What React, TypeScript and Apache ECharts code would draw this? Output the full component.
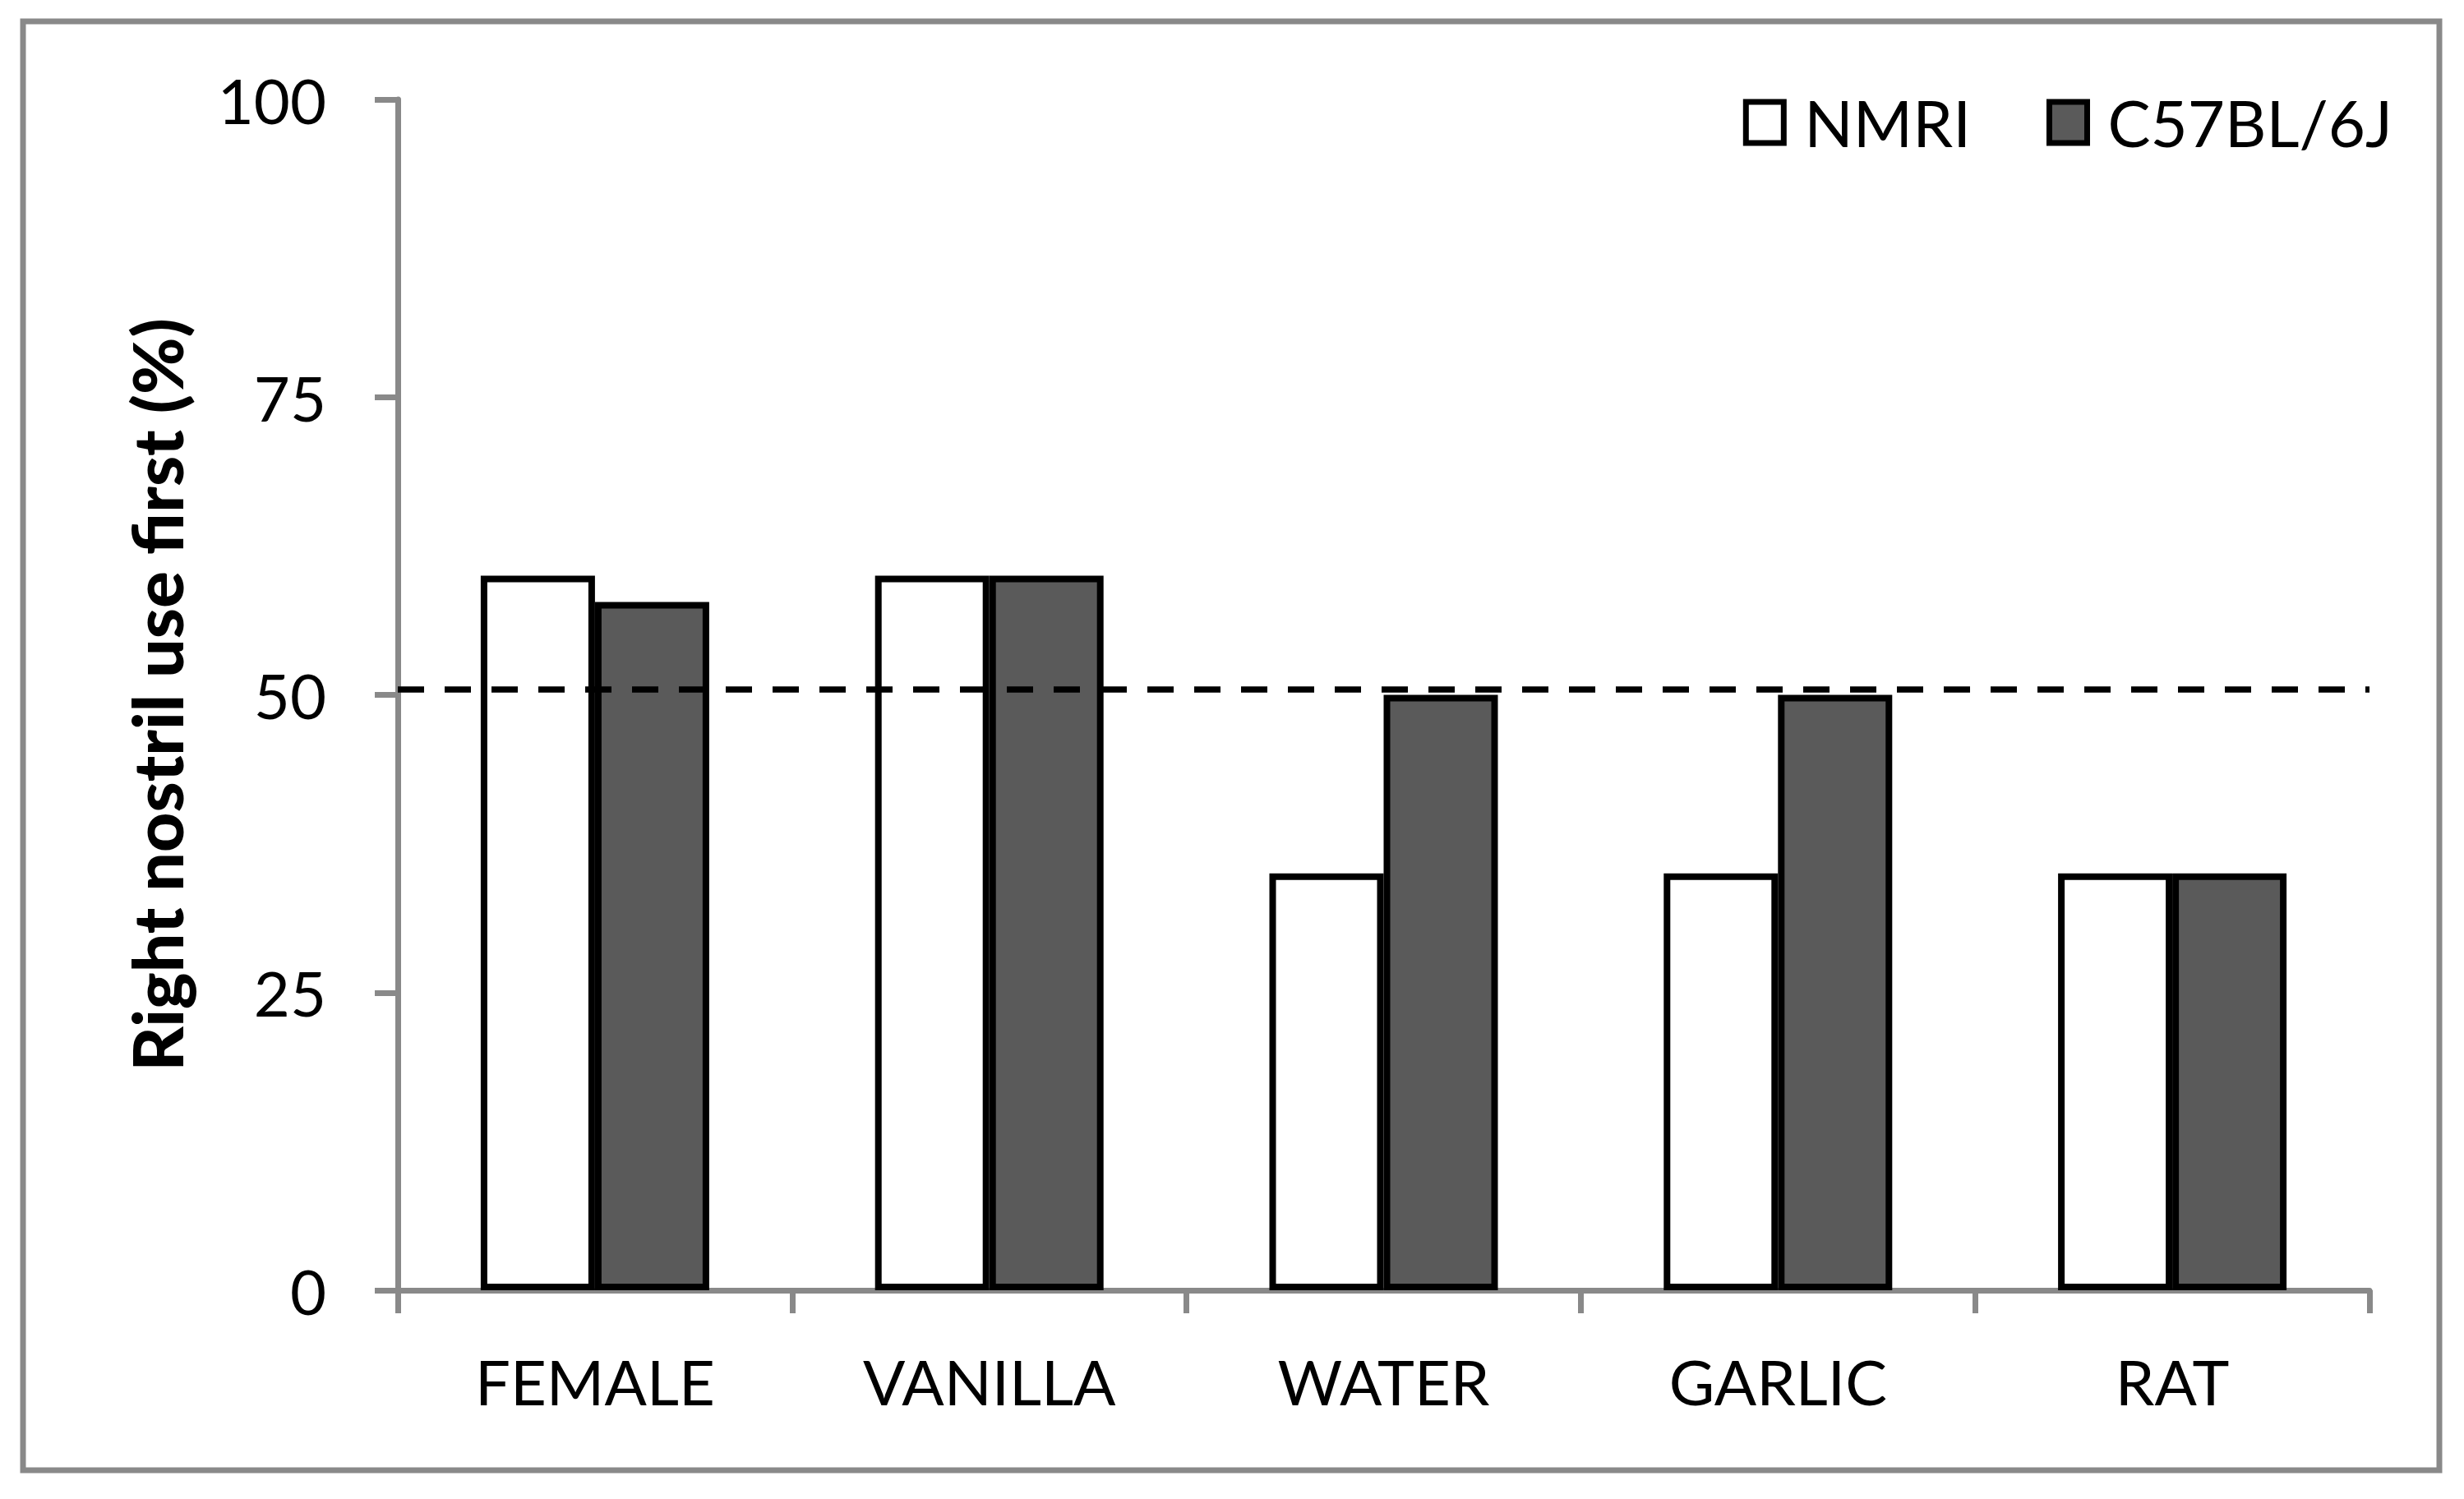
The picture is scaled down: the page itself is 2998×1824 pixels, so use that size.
import React, { useEffect, useRef } from "react";
import * as echarts from "echarts";

const categories = ["FEMALE", "VANILLA", "WATER", "GARLIC", "RAT"];
const nmriValues = [60, 60, 35, 35, 35];
const c57Values = [57.8, 60, 50, 50, 35];
const chanceLevel = 50.5;
const yTicks = { min: 0, max: 100, interval: 25 };

const FONT = "Lato, 'Open Sans', sans-serif";
const AXIS_GRAY = "#898989";

export default function App() {
  const ref = useRef<HTMLDivElement>(null);
  useEffect(() => {
    document.body.style.margin = "0";
    const chart = echarts.init(ref.current!, null, { renderer: "svg" });
    chart.setOption({
      animation: false,
      backgroundColor: "#ffffff",
      textStyle: { fontFamily: FONT, color: "#000" },
      grid: { left: 484, right: 115, top: 121, bottom: 254 },
      legend: {
        right: 82,
        top: 105,
        orient: "horizontal",
        icon: "rect",
        itemWidth: 46,
        itemHeight: 50,
        itemGap: 92,
        textStyle: {
          fontFamily: FONT,
          fontSize: 78,
          color: "#000",
          padding: [0, 0, 0, 20],
        },
        data: [
          { name: "NMRI", itemStyle: { color: "#ffffff", borderColor: "#000", borderWidth: 7 } },
          { name: "C57BL/6J", itemStyle: { color: "#5a5a5a", borderColor: "#000", borderWidth: 7 } },
        ],
      },
      graphic: [
        {
          type: "rect",
          shape: { x: 28, y: 26, width: 2940, height: 1763 },
          style: { fill: "none", stroke: AXIS_GRAY, lineWidth: 7 },
          silent: true,
        },
      ],
      xAxis: {
        type: "category",
        data: categories,
        axisLine: { show: true, lineStyle: { color: AXIS_GRAY, width: 7 } },
        axisTick: { show: true, length: 28, lineStyle: { color: AXIS_GRAY, width: 7 } },
        axisLabel: { fontFamily: FONT, fontSize: 76, color: "#000", margin: 72 },
        splitLine: { show: false },
      },
      yAxis: {
        type: "value",
        min: yTicks.min,
        max: yTicks.max,
        interval: yTicks.interval,
        name: "Right nostril use first (%)",
        nameLocation: "middle",
        nameGap: 252,
        nameTextStyle: { fontFamily: FONT, fontSize: 84, fontWeight: 900, color: "#000" },
        axisLine: { show: true, lineStyle: { color: AXIS_GRAY, width: 7 } },
        axisTick: { show: true, length: 28, lineStyle: { color: AXIS_GRAY, width: 7 } },
        axisLabel: { fontFamily: FONT, fontSize: 76, color: "#000", margin: 87 },
        splitLine: { show: false },
      },
      series: [
        {
          name: "NMRI",
          type: "bar",
          data: nmriValues,
          barWidth: 139,
          barGap: "0%",
          itemStyle: { color: "#ffffff", borderColor: "#000", borderWidth: 8 },
          markLine: {
            silent: true,
            symbol: "none",
            label: { show: false },
            lineStyle: { color: "#000", width: 7.5, type: [32, 25] },
            data: [{ yAxis: chanceLevel }],
          },
          z: 2,
        },
        {
          name: "C57BL/6J",
          type: "bar",
          data: c57Values,
          barWidth: 139,
          barGap: "0%",
          itemStyle: { color: "#5a5a5a", borderColor: "#000", borderWidth: 8 },
          z: 2,
        },
      ],
    });
    return () => chart.dispose();
  }, []);
  return <div ref={ref} style={{ width: 2998, height: 1824 }} />;
}
